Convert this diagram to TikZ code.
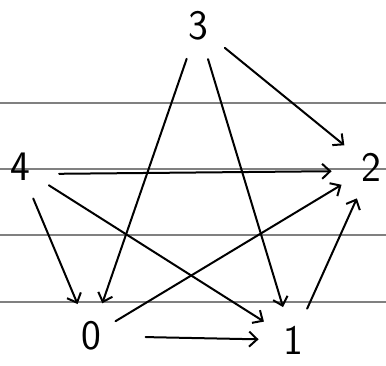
\documentclass[tikz,border=0pt]{standalone}
\usetikzlibrary{arrows.meta}
\begin{document}
\begin{tikzpicture}[x=1pt, y=-1pt, >={Straight Barb[length=8pt,width=15pt]},
    vertex/.style={circle, inner sep=0pt, font=\sffamily\fontsize{42}{42}\selectfont},
    edge/.style={->, line width=2pt, line cap=round, line join=round, shorten <=17pt, shorten >=17pt}]
    \useasboundingbox (0,0) rectangle (386,365);

    % Ruled lines
    \foreach \y in {103,169,235,302}
        \draw[gray, line width=1.2pt] (0,\y) -- (386,\y);

    % Vertices
    \node[vertex] (v3) at (198,26) {3};
    \node[vertex] (v4) at (20,167) {4};
    \node[vertex] (v2) at (371,167) {2};
    \node[vertex] (v0) at (91,336) {0};
    \node[vertex] (v1) at (293,340) {1};

    % Edges
    \draw[edge] (v3) -- (v2);
    \draw[edge] (v3) -- (v0);
    \draw[edge] (v3) -- (v1);
    \draw[edge, shorten <=22pt, shorten >=22pt] ([yshift=-7pt]v4.east) -- ([yshift=-4pt]v2.west);
    \draw[edge] (v4) -- (v1);
    \draw[edge] (v4) -- (v0);
    \draw[edge, shorten <=11pt] (v0) -- (v2);
    \draw[edge, shorten <=37pt] (v0) -- (v1);
    \draw[edge] (v1) -- (v2);
\end{tikzpicture}
\end{document}
